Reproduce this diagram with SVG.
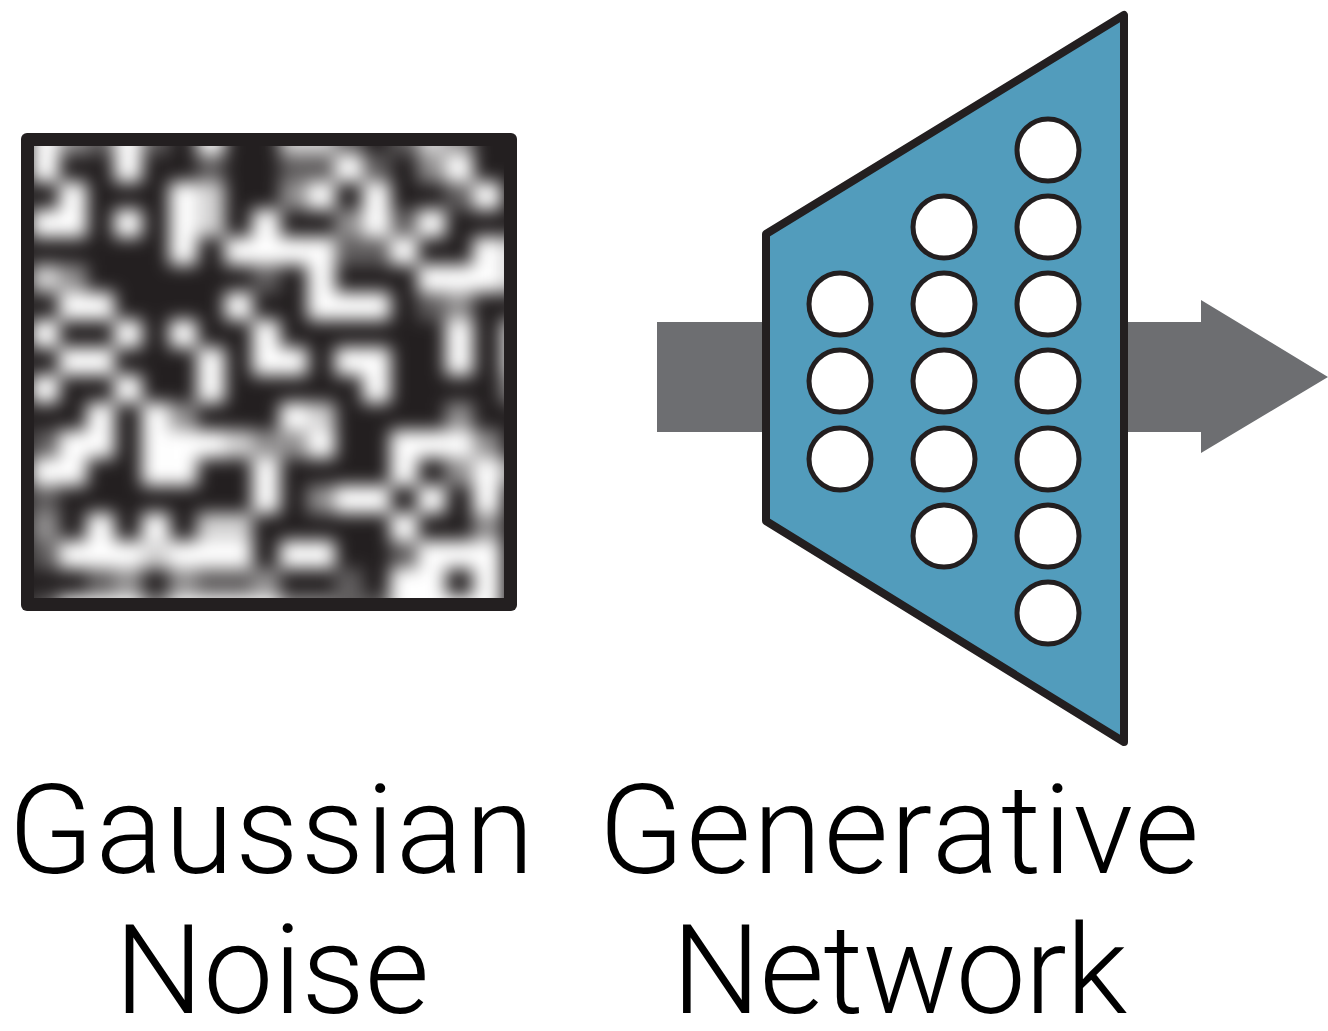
<svg xmlns="http://www.w3.org/2000/svg" width="1328" height="1031" viewBox="0 0 1328 1031">
  <style>
    .label { font-family: Roboto, "Liberation Sans", sans-serif; font-weight: 300; font-size: 125px; fill: #000; text-anchor: middle; }
    .px { fill: #fff; }
    .w { fill-opacity: 1; }
    .a { fill-opacity: 0.8; }
    .b { fill-opacity: 0.5; }
    .c { fill-opacity: 0.28; }
    .unit { fill: #fff; stroke: #231f20; stroke-width: 5; }
    .flow { fill: #6d6e71; }
  </style>
  <defs>
    <clipPath id="noiseClip">
      <rect x="34" y="146" width="470" height="452"/>
    </clipPath>
    <filter id="soft" x="-10%" y="-10%" width="120%" height="120%">
      <feGaussianBlur stdDeviation="8.5"/>
    </filter>
  </defs>

  <rect width="1328" height="1031" fill="#fff"/>

  <!-- flow arrow through the generator -->
  <g id="connectors">
    <rect class="flow" x="657" y="322" width="115" height="110"/>
    <polygon class="flow" points="1118,322 1201,322 1201,300 1328,377 1201,453 1201,432 1118,432"/>
  </g>

  <!-- noise image: 18x18 grid of grey levels, softened -->
  <g id="noise">
    <rect x="21" y="133" width="496" height="478" rx="6" fill="#231f20"/>
    <g clip-path="url(#noiseClip)">
      <rect x="34" y="146" width="470" height="452" fill="#231f20"/>
      <g filter="url(#soft)">
        <g transform="translate(31.2 126.6) scale(27.6)">
          <!-- row 0 -->
          <rect class="px w" x="0" y="0" width="1.02" height="1.02"/>
          <rect class="px b" x="1" y="0" width="1.02" height="1.02"/>
          <rect class="px c" x="2" y="0" width="1.02" height="1.02"/>
          <rect class="px w" x="3" y="0" width="1.02" height="1.02"/>
          <rect class="px c" x="4" y="0" width="1.02" height="1.02"/>
          <rect class="px w" x="6" y="0" width="1.02" height="1.02"/>
          <rect class="px a" x="9" y="0" width="1.02" height="1.02"/>
          <rect class="px a" x="10" y="0" width="1.02" height="1.02"/>
          <rect class="px c" x="11" y="0" width="1.02" height="1.02"/>
          <rect class="px c" x="13" y="0" width="1.02" height="1.02"/>
          <rect class="px a" x="14" y="0" width="1.02" height="1.02"/>
          <rect class="px b" x="15" y="0" width="1.02" height="1.02"/>
          <!-- row 1 -->
          <rect class="px w" x="0" y="1" width="1.02" height="1.02"/>
          <rect class="px w" x="3" y="1" width="1.02" height="1.02"/>
          <rect class="px c" x="6" y="1" width="1.02" height="1.02"/>
          <rect class="px c" x="9" y="1" width="1.02" height="1.02"/>
          <rect class="px c" x="10" y="1" width="1.02" height="1.02"/>
          <rect class="px w" x="11" y="1" width="1.02" height="1.02"/>
          <rect class="px c" x="12" y="1" width="1.02" height="1.02"/>
          <rect class="px b" x="14" y="1" width="1.02" height="1.02"/>
          <rect class="px w" x="15" y="1" width="1.02" height="1.02"/>
          <!-- row 2 -->
          <rect class="px w" x="1" y="2" width="1.02" height="1.02"/>
          <rect class="px w" x="5" y="2" width="1.02" height="1.02"/>
          <rect class="px a" x="6" y="2" width="1.02" height="1.02"/>
          <rect class="px b" x="9" y="2" width="1.02" height="1.02"/>
          <rect class="px w" x="10" y="2" width="1.02" height="1.02"/>
          <rect class="px w" x="12" y="2" width="1.02" height="1.02"/>
          <rect class="px c" x="15" y="2" width="1.02" height="1.02"/>
          <rect class="px w" x="16" y="2" width="1.02" height="1.02"/>
          <!-- row 3 -->
          <rect class="px w" x="0" y="3" width="1.02" height="1.02"/>
          <rect class="px w" x="1" y="3" width="1.02" height="1.02"/>
          <rect class="px w" x="3" y="3" width="1.02" height="1.02"/>
          <rect class="px w" x="5" y="3" width="1.02" height="1.02"/>
          <rect class="px a" x="6" y="3" width="1.02" height="1.02"/>
          <rect class="px w" x="8" y="3" width="1.02" height="1.02"/>
          <rect class="px b" x="11" y="3" width="1.02" height="1.02"/>
          <rect class="px w" x="12" y="3" width="1.02" height="1.02"/>
          <rect class="px c" x="13" y="3" width="1.02" height="1.02"/>
          <rect class="px w" x="14" y="3" width="1.02" height="1.02"/>
          <!-- row 4 -->
          <rect class="px w" x="5" y="4" width="1.02" height="1.02"/>
          <rect class="px w" x="7" y="4" width="1.02" height="1.02"/>
          <rect class="px w" x="8" y="4" width="1.02" height="1.02"/>
          <rect class="px w" x="9" y="4" width="1.02" height="1.02"/>
          <rect class="px w" x="10" y="4" width="1.02" height="1.02"/>
          <rect class="px c" x="11" y="4" width="1.02" height="1.02"/>
          <rect class="px c" x="12" y="4" width="1.02" height="1.02"/>
          <rect class="px w" x="13" y="4" width="1.02" height="1.02"/>
          <rect class="px w" x="16" y="4" width="1.02" height="1.02"/>
          <rect class="px a" x="17" y="4" width="1.02" height="1.02"/>
          <!-- row 5 -->
          <rect class="px a" x="0" y="5" width="1.02" height="1.02"/>
          <rect class="px b" x="1" y="5" width="1.02" height="1.02"/>
          <rect class="px c" x="8" y="5" width="1.02" height="1.02"/>
          <rect class="px w" x="10" y="5" width="1.02" height="1.02"/>
          <rect class="px w" x="14" y="5" width="1.02" height="1.02"/>
          <rect class="px w" x="15" y="5" width="1.02" height="1.02"/>
          <rect class="px w" x="16" y="5" width="1.02" height="1.02"/>
          <rect class="px a" x="17" y="5" width="1.02" height="1.02"/>
          <!-- row 6 -->
          <rect class="px w" x="1" y="6" width="1.02" height="1.02"/>
          <rect class="px w" x="2" y="6" width="1.02" height="1.02"/>
          <rect class="px w" x="7" y="6" width="1.02" height="1.02"/>
          <rect class="px w" x="10" y="6" width="1.02" height="1.02"/>
          <rect class="px w" x="11" y="6" width="1.02" height="1.02"/>
          <rect class="px w" x="12" y="6" width="1.02" height="1.02"/>
          <rect class="px c" x="14" y="6" width="1.02" height="1.02"/>
          <rect class="px b" x="15" y="6" width="1.02" height="1.02"/>
          <!-- row 7 -->
          <rect class="px w" x="0" y="7" width="1.02" height="1.02"/>
          <rect class="px w" x="3" y="7" width="1.02" height="1.02"/>
          <rect class="px w" x="5" y="7" width="1.02" height="1.02"/>
          <rect class="px w" x="8" y="7" width="1.02" height="1.02"/>
          <rect class="px w" x="15" y="7" width="1.02" height="1.02"/>
          <rect class="px a" x="17" y="7" width="1.02" height="1.02"/>
          <!-- row 8 -->
          <rect class="px w" x="1" y="8" width="1.02" height="1.02"/>
          <rect class="px w" x="2" y="8" width="1.02" height="1.02"/>
          <rect class="px w" x="6" y="8" width="1.02" height="1.02"/>
          <rect class="px w" x="8" y="8" width="1.02" height="1.02"/>
          <rect class="px w" x="9" y="8" width="1.02" height="1.02"/>
          <rect class="px w" x="11" y="8" width="1.02" height="1.02"/>
          <rect class="px w" x="12" y="8" width="1.02" height="1.02"/>
          <rect class="px w" x="15" y="8" width="1.02" height="1.02"/>
          <rect class="px a" x="17" y="8" width="1.02" height="1.02"/>
          <!-- row 9 -->
          <rect class="px w" x="0" y="9" width="1.02" height="1.02"/>
          <rect class="px w" x="3" y="9" width="1.02" height="1.02"/>
          <rect class="px w" x="6" y="9" width="1.02" height="1.02"/>
          <rect class="px w" x="12" y="9" width="1.02" height="1.02"/>
          <rect class="px b" x="17" y="9" width="1.02" height="1.02"/>
          <!-- row 10 -->
          <rect class="px w" x="2" y="10" width="1.02" height="1.02"/>
          <rect class="px w" x="4" y="10" width="1.02" height="1.02"/>
          <rect class="px b" x="5" y="10" width="1.02" height="1.02"/>
          <rect class="px w" x="9" y="10" width="1.02" height="1.02"/>
          <rect class="px a" x="10" y="10" width="1.02" height="1.02"/>
          <rect class="px b" x="15" y="10" width="1.02" height="1.02"/>
          <!-- row 11 -->
          <rect class="px c" x="0" y="11" width="1.02" height="1.02"/>
          <rect class="px w" x="1" y="11" width="1.02" height="1.02"/>
          <rect class="px w" x="2" y="11" width="1.02" height="1.02"/>
          <rect class="px w" x="4" y="11" width="1.02" height="1.02"/>
          <rect class="px w" x="5" y="11" width="1.02" height="1.02"/>
          <rect class="px w" x="6" y="11" width="1.02" height="1.02"/>
          <rect class="px a" x="7" y="11" width="1.02" height="1.02"/>
          <rect class="px b" x="8" y="11" width="1.02" height="1.02"/>
          <rect class="px b" x="9" y="11" width="1.02" height="1.02"/>
          <rect class="px w" x="10" y="11" width="1.02" height="1.02"/>
          <rect class="px w" x="13" y="11" width="1.02" height="1.02"/>
          <rect class="px w" x="14" y="11" width="1.02" height="1.02"/>
          <rect class="px w" x="15" y="11" width="1.02" height="1.02"/>
          <rect class="px b" x="16" y="11" width="1.02" height="1.02"/>
          <!-- row 12 -->
          <rect class="px w" x="0" y="12" width="1.02" height="1.02"/>
          <rect class="px w" x="1" y="12" width="1.02" height="1.02"/>
          <rect class="px w" x="4" y="12" width="1.02" height="1.02"/>
          <rect class="px w" x="5" y="12" width="1.02" height="1.02"/>
          <rect class="px w" x="8" y="12" width="1.02" height="1.02"/>
          <rect class="px w" x="13" y="12" width="1.02" height="1.02"/>
          <rect class="px b" x="15" y="12" width="1.02" height="1.02"/>
          <rect class="px w" x="16" y="12" width="1.02" height="1.02"/>
          <rect class="px b" x="17" y="12" width="1.02" height="1.02"/>
          <!-- row 13 -->
          <rect class="px c" x="0" y="13" width="1.02" height="1.02"/>
          <rect class="px w" x="8" y="13" width="1.02" height="1.02"/>
          <rect class="px b" x="10" y="13" width="1.02" height="1.02"/>
          <rect class="px w" x="11" y="13" width="1.02" height="1.02"/>
          <rect class="px w" x="12" y="13" width="1.02" height="1.02"/>
          <rect class="px w" x="14" y="13" width="1.02" height="1.02"/>
          <rect class="px w" x="16" y="13" width="1.02" height="1.02"/>
          <!-- row 14 -->
          <rect class="px b" x="0" y="14" width="1.02" height="1.02"/>
          <rect class="px w" x="2" y="14" width="1.02" height="1.02"/>
          <rect class="px w" x="4" y="14" width="1.02" height="1.02"/>
          <rect class="px a" x="6" y="14" width="1.02" height="1.02"/>
          <rect class="px a" x="7" y="14" width="1.02" height="1.02"/>
          <rect class="px w" x="13" y="14" width="1.02" height="1.02"/>
          <rect class="px b" x="16" y="14" width="1.02" height="1.02"/>
          <!-- row 15 -->
          <rect class="px c" x="0" y="15" width="1.02" height="1.02"/>
          <rect class="px w" x="1" y="15" width="1.02" height="1.02"/>
          <rect class="px w" x="2" y="15" width="1.02" height="1.02"/>
          <rect class="px w" x="3" y="15" width="1.02" height="1.02"/>
          <rect class="px a" x="4" y="15" width="1.02" height="1.02"/>
          <rect class="px w" x="5" y="15" width="1.02" height="1.02"/>
          <rect class="px w" x="6" y="15" width="1.02" height="1.02"/>
          <rect class="px w" x="7" y="15" width="1.02" height="1.02"/>
          <rect class="px w" x="9" y="15" width="1.02" height="1.02"/>
          <rect class="px w" x="10" y="15" width="1.02" height="1.02"/>
          <rect class="px c" x="13" y="15" width="1.02" height="1.02"/>
          <rect class="px w" x="14" y="15" width="1.02" height="1.02"/>
          <rect class="px w" x="15" y="15" width="1.02" height="1.02"/>
          <rect class="px w" x="16" y="15" width="1.02" height="1.02"/>
          <!-- row 16 -->
          <rect class="px c" x="2" y="16" width="1.02" height="1.02"/>
          <rect class="px b" x="3" y="16" width="1.02" height="1.02"/>
          <rect class="px b" x="5" y="16" width="1.02" height="1.02"/>
          <rect class="px c" x="6" y="16" width="1.02" height="1.02"/>
          <rect class="px c" x="7" y="16" width="1.02" height="1.02"/>
          <rect class="px b" x="8" y="16" width="1.02" height="1.02"/>
          <rect class="px c" x="11" y="16" width="1.02" height="1.02"/>
          <rect class="px w" x="13" y="16" width="1.02" height="1.02"/>
          <rect class="px w" x="14" y="16" width="1.02" height="1.02"/>
          <rect class="px w" x="16" y="16" width="1.02" height="1.02"/>
          <!-- row 17 -->
          <rect class="px c" x="0" y="17" width="1.02" height="1.02"/>
          <rect class="px w" x="1" y="17" width="1.02" height="1.02"/>
          <rect class="px w" x="2" y="17" width="1.02" height="1.02"/>
          <rect class="px w" x="3" y="17" width="1.02" height="1.02"/>
          <rect class="px b" x="4" y="17" width="1.02" height="1.02"/>
          <rect class="px w" x="5" y="17" width="1.02" height="1.02"/>
          <rect class="px w" x="6" y="17" width="1.02" height="1.02"/>
          <rect class="px w" x="7" y="17" width="1.02" height="1.02"/>
          <rect class="px w" x="8" y="17" width="1.02" height="1.02"/>
          <rect class="px b" x="9" y="17" width="1.02" height="1.02"/>
          <rect class="px b" x="10" y="17" width="1.02" height="1.02"/>
          <rect class="px c" x="11" y="17" width="1.02" height="1.02"/>
          <rect class="px c" x="12" y="17" width="1.02" height="1.02"/>
          <rect class="px w" x="13" y="17" width="1.02" height="1.02"/>
          <rect class="px w" x="14" y="17" width="1.02" height="1.02"/>
          <rect class="px w" x="15" y="17" width="1.02" height="1.02"/>
          <rect class="px w" x="16" y="17" width="1.02" height="1.02"/>
        </g>
      </g>
    </g>
    <text class="label" x="272" y="873" letter-spacing="2">Gaussian</text>
    <text class="label" x="272" y="1013">Noise</text>
  </g>

  <!-- generator network: widening trapezoid with three layers of units -->
  <g id="generator">
    <polygon points="766,234 1124,15 1124,742 766,521" fill="#529cbc" stroke="#231f20" stroke-width="8" stroke-linejoin="round"/>
    <circle class="unit" cx="840" cy="304" r="31"/>
    <circle class="unit" cx="840" cy="381" r="31"/>
    <circle class="unit" cx="840" cy="459" r="31"/>
    <circle class="unit" cx="944" cy="227" r="31"/>
    <circle class="unit" cx="944" cy="304" r="31"/>
    <circle class="unit" cx="944" cy="381" r="31"/>
    <circle class="unit" cx="944" cy="459" r="31"/>
    <circle class="unit" cx="944" cy="536" r="31"/>
    <circle class="unit" cx="1048" cy="150" r="31"/>
    <circle class="unit" cx="1048" cy="227" r="31"/>
    <circle class="unit" cx="1048" cy="304" r="31"/>
    <circle class="unit" cx="1048" cy="381" r="31"/>
    <circle class="unit" cx="1048" cy="459" r="31"/>
    <circle class="unit" cx="1048" cy="536" r="31"/>
    <circle class="unit" cx="1048" cy="613" r="31"/>
    <text class="label" x="900" y="873" letter-spacing="2">Generative</text>
    <text class="label" x="899" y="1013" letter-spacing="-1">Network</text>
  </g>
</svg>
